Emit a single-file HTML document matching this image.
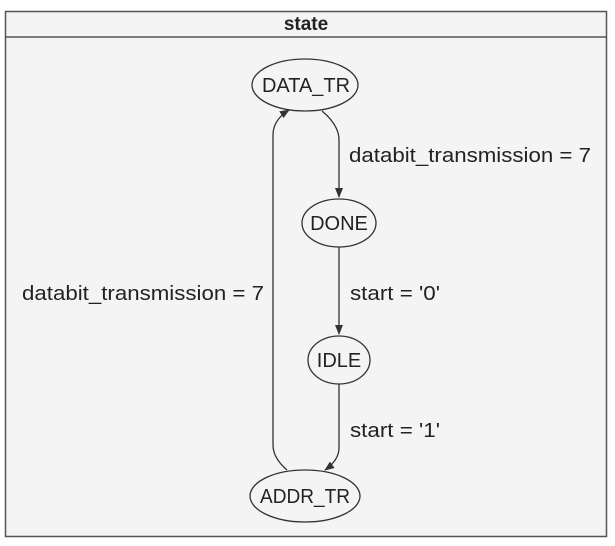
<!DOCTYPE html>
<html><head><style>body{margin:0;background:#fff}svg{display:block}</style></head><body>
<svg width="615" height="546" xmlns="http://www.w3.org/2000/svg" font-family="'Liberation Sans', sans-serif">
<defs><marker id="a" markerWidth="10" markerHeight="10" refX="9" refY="5" orient="auto" markerUnits="userSpaceOnUse"><path d="M0,1 L10,5 L0,9 z" fill="#333"/></marker></defs>
<rect x="5.5" y="11.5" width="601" height="525" fill="#f4f4f4" stroke="#555" stroke-width="1.5"/>
<line x1="5" y1="37" x2="607" y2="37" stroke="#555" stroke-width="1.5"/>
<text x="306" y="30" text-anchor="middle" font-size="19" font-weight="bold" fill="#222">state</text>
<g fill="none" stroke="#333" stroke-width="1.3">
<ellipse cx="305" cy="85" rx="53" ry="26"/>
<ellipse cx="339" cy="223" rx="37" ry="24"/>
<ellipse cx="339" cy="360" rx="31" ry="24"/>
<ellipse cx="305" cy="496" rx="55" ry="26"/>
<path d="M322,111 Q339,125 339,140 L339,197" marker-end="url(#a)"/>
<path d="M339,247 L339,334" marker-end="url(#a)"/>
<path d="M339,384 L339,448 Q339,460 325,470" marker-end="url(#a)"/>
<path d="M287,470 Q273,458 273,445 L273,135 Q273,120 289,110" marker-end="url(#a)"/>
</g>
<g font-size="20" fill="#222">
<text x="262" y="92" textLength="88" lengthAdjust="spacingAndGlyphs">DATA_TR</text>
<text x="339" y="230" text-anchor="middle">DONE</text>
<text x="339" y="367" text-anchor="middle">IDLE</text>
<text x="260" y="503" textLength="90" lengthAdjust="spacingAndGlyphs">ADDR_TR</text>
<text x="349" y="162" textLength="242" lengthAdjust="spacingAndGlyphs">databit_transmission = 7</text>
<text x="350" y="300" textLength="90" lengthAdjust="spacingAndGlyphs">start = '0'</text>
<text x="350" y="437" textLength="90" lengthAdjust="spacingAndGlyphs">start = '1'</text>
<text x="22" y="300" textLength="242" lengthAdjust="spacingAndGlyphs">databit_transmission = 7</text>
</g>
</svg>
</body></html>
